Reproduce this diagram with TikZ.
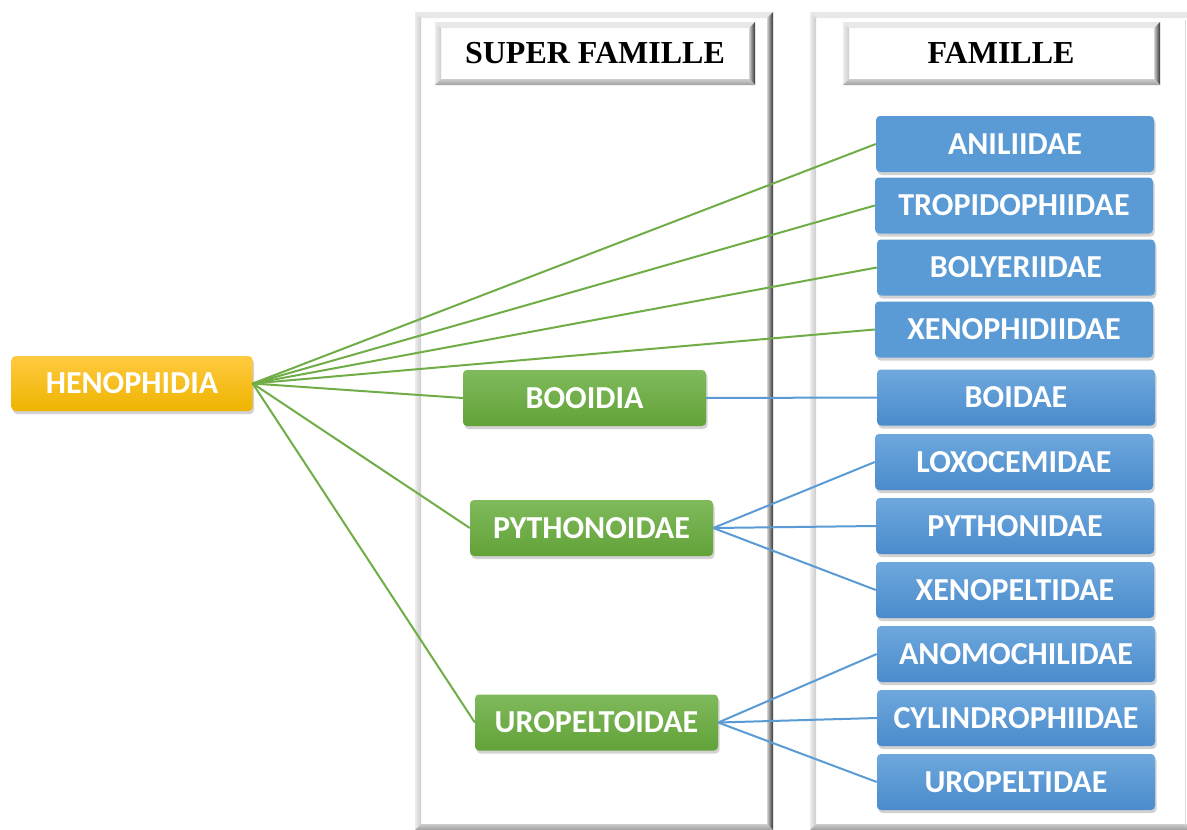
\documentclass[tikz,border=0pt]{standalone}
\usepackage{fontspec}
\setmainfont{Carlito}
\newfontfamily\hdrfont{Liberation Serif}
\usetikzlibrary{shadows}
\definecolor{oblue}{HTML}{5B9BD5}
\definecolor{obluetop}{HTML}{6EA8DD}
\definecolor{oblueb}{HTML}{4A8BCC}
\definecolor{ogreen}{HTML}{70AD47}
\definecolor{ogreentop}{HTML}{80BA5C}
\definecolor{ogreenb}{HTML}{62A238}
\definecolor{oyel}{HTML}{FFC000}
\definecolor{oyeltop}{HTML}{FFCA40}
\definecolor{oyelb}{HTML}{EEB400}
\newcommand\bevelbox[5]{%
  \fill[white] (#1,#2) rectangle (#3,#4);
  \fill[gray!18] (#1,#2) -- (#3,#2) -- ({#3-#5},{#2+#5}) -- ({#1+#5},{#2+#5}) -- cycle;
  \shade[left color=gray!15,right color=gray!40] (#1,#2) -- ({#1+#5},{#2+#5}) -- ({#1+#5},{#4-#5}) -- (#1,#4) -- cycle;
  \shade[left color=gray!35,right color=black!80] (#3,#2) -- (#3,#4) -- ({#3-#5},{#4-#5}) -- ({#3-#5},{#2+#5}) -- cycle;
  \shade[top color=gray!40,bottom color=gray!75] (#1,#4) -- (#3,#4) -- ({#3-#5},{#4-#5}) -- ({#1+#5},{#4-#5}) -- cycle;
}
\tikzset{
  boxbase/.style={rounded corners=4pt, text=white, font=\bfseries\fontsize{32}{32}\selectfont,
    minimum height=56pt, inner sep=0pt,
    drop shadow={opacity=0.35, shadow xshift=1.5pt, shadow yshift=-3pt}},
  famflat/.style={boxbase, fill=oblue, minimum width=278pt},
  famgrad/.style={boxbase, top color=obluetop, bottom color=oblueb, minimum width=278pt},
  sup/.style={boxbase, top color=ogreentop, bottom color=ogreenb, minimum width=243pt},
  root/.style={boxbase, top color=oyeltop, bottom color=oyelb, minimum width=241pt, minimum height=55pt},
  hdr/.style={font=\hdrfont\bfseries\fontsize{32}{32}\selectfont, text=black},
  gline/.style={draw=ogreen, line width=2pt},
  bline/.style={draw=oblue, line width=2pt},
}
\begin{document}
\begin{tikzpicture}[x=1pt,y=-1pt]
\useasboundingbox (0,0) rectangle (1187,830);
\clip (0,0) rectangle (1187,830);
\fill[white] (0,0) rectangle (1187,830);
% columns
\bevelbox{415}{12}{773}{830}{6}
\bevelbox{810}{12}{1200}{830}{6}
\draw[gray!30, line width=1pt] (1185,20) -- (1185,826);
% headers
\bevelbox{435}{22}{755}{85}{6}
\bevelbox{843}{22}{1160}{85}{6}
\node[hdr] (hsf) at (595,53) {SUPER FAMILLE};
\node[hdr] (hf) at (1001,53) {FAMILLE};
% nodes
\node[root] (hen) at (132,383.5) {HENOPHIDIA};
\node[sup] (boo) at (584.5,398) {BOOIDIA};
\node[sup] (pyt) at (591.5,528) {PYTHONOIDAE};
\node[sup] (uro) at (596.5,722.5) {UROPELTOIDAE};
\node[famflat] (f1) at (1015,144) {ANILIIDAE};
\node[famflat] (f2) at (1014,205.5) {TROPIDOPHIIDAE};
\node[famflat] (f3) at (1016,267.5) {BOLYERIIDAE};
\node[famflat] (f4) at (1014,329.5) {XENOPHIDIIDAE};
\node[famgrad] (f5) at (1016,397.5) {BOIDAE};
\node[famgrad] (f6) at (1014,462) {LOXOCEMIDAE};
\node[famgrad] (f7) at (1015,526) {PYTHONIDAE};
\node[famgrad] (f8) at (1015,590) {XENOPELTIDAE};
\node[famgrad] (f9) at (1016,654) {ANOMOCHILIDAE};
\node[famgrad] (f10) at (1016,718) {CYLINDROPHIIDAE};
\node[famgrad] (f11) at (1016,782) {UROPELTIDAE};
% connectors
\path[gline] (hen.east) -- (f1.west);
\path[gline] (hen.east) -- (f2.west);
\path[gline] (hen.east) -- (f3.west);
\path[gline] (hen.east) -- (f4.west);
\path[gline] (hen.east) -- (boo.west);
\path[gline] (hen.east) -- (pyt.west);
\path[gline] (hen.east) -- (uro.west);
\path[bline] (boo.east) -- (f5.west);
\path[bline] (pyt.east) -- (f6.west);
\path[bline] (pyt.east) -- (f7.west);
\path[bline] (pyt.east) -- (f8.west);
\path[bline] (uro.east) -- (f9.west);
\path[bline] (uro.east) -- (f10.west);
\path[bline] (uro.east) -- (f11.west);
\end{tikzpicture}
\end{document}
